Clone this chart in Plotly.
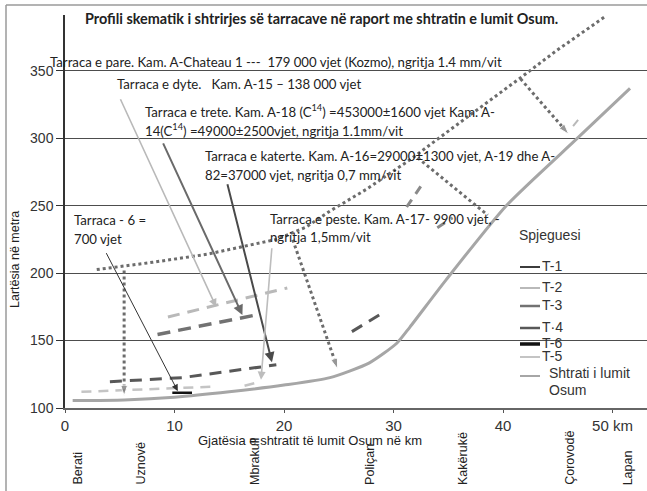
import plotly.graph_objects as go

# ---- river bed profile of the Osum (distance km, elevation m) ----
river_km = [0.7, 5.4, 10, 15, 20, 24.2, 27.8, 30.3, 31.5, 34.8, 40.3, 46.8, 51.6]
river_m = [105.5, 106, 108, 112, 117, 122.5, 133.5, 148, 160, 195, 250, 300, 337]

# ---- terrace remnants ----
t2_km = [9.4, 20.3]
t2_m = [167.5, 189]
t2b_km = [46.4, 47.0]
t2b_m = [309, 315]
t3_km = [8.45, 17.6]
t3_m = [154.5, 169.2]
t3b_km = [31.2, 32.8]
t3b_m = [249, 268]
t3c_km = [34.0, 35.4]
t3c_m = [233.7, 241]
t4_km = [4.1, 10.7, 19.3]
t4_m = [119.5, 122.5, 132]
t4b_km = [26.2, 28.7]
t4b_m = [156.6, 169]
t5_km = [1.5, 13.5]
t5_m = [112, 115.8]
t5b_km = [16.4, 17.8]
t5b_m = [116.5, 119.5]
t6_km = [9.8, 11.6]
t6_m = [111.3, 111.3]

# ---- dotted profile of the upper surface and dotted pointers ----
crest_km = [2.9, 8, 13, 19.3, 22, 24.2, 27.5, 31.5, 34.8, 38.5, 41.8, 44.9, 47.5, 49.3]
crest_m = [202.6, 208, 214, 225, 234, 246, 262, 284, 304, 326, 346, 365, 380, 390]
mid_km = [32.2, 38.6]
mid_m = [285.5, 243]
uznove_km = [5.4, 5.4]
uznove_m = [202, 109]
polican_km = [20.8, 24.9]
polican_m = [224.7, 129]
corovode_km = [41.6, 46.0]
corovode_m = [344, 303]

# ---- axis ticks and places along the river ----
x_ticks = [0, 10, 20, 30, 40, 50]
x_ticktext = ["0", "10", "20", "30", "40", "50 km"]
y_ticks = [100, 150, 200, 250, 300, 350]
places = ["Berati", "Uznovë", "Mbrakull", "Poliçan", "Kakërukë", "Çorovodë", "Lapan"]
places_km = [1.1, 6.9, 17.3, 27.8, 36.3, 46.1, 51.4]

W, H = 647, 491
L, T, B = 65, 15, 83
PW, PH = W - L, H - T - B
KM_PER_PX = 1 / 10.95
M_PER_PX = 1 / 1.349


def px(x):
    return (x - L) / PW


def py(y):
    return (H - B - y) / PH


C_T1 = "#3c3c3c"
C_T2 = "#b9b9b9"
C_T3 = "#727272"
C_T4 = "#585858"
C_T5 = "#c4c4c4"
C_T6 = "#111111"
C_RIVER = "#a6a6a6"
C_DOT = "#6c6c6c"

fig = go.Figure()


def seg(xs, ys, color, width, dash):
    fig.add_trace(go.Scatter(x=xs, y=ys, mode="lines", showlegend=False,
                             hoverinfo="skip",
                             line=dict(color=color, width=width, dash=dash)))


# terraces
seg(t5_km, t5_m, C_T5, 2.5, "10px,7px")
seg(t5b_km, t5b_m, C_T5, 2.5, "10px,7px")
seg(t2_km, t2_m, C_T2, 3, "12px,8px")
seg(t2b_km, t2b_m, C_T2, 2, "8px,4px")
seg(t3_km, t3_m, C_T3, 3.5, "13px,8px")
seg(t3b_km, t3b_m, "#8a8a8a", 3, "9px,7px")
seg(t3c_km, t3c_m, "#8a8a8a", 3, "9px,7px")
seg(t4_km, t4_m, C_T4, 3, "12px,8px")
seg(t4b_km, t4b_m, C_T4, 3, "12px,8px")
seg(t6_km, t6_m, C_T6, 2.5, "solid")

# river bed
fig.add_trace(go.Scatter(x=river_km, y=river_m, mode="lines", showlegend=False,
                         hoverinfo="skip",
                         line=dict(color=C_RIVER, width=3, shape="spline", smoothing=0.6)))

# dotted lines
seg(crest_km, crest_m, C_DOT, 3, "dot")
seg(mid_km, mid_m, C_DOT, 3, "dot")
for xs, ys in [(uznove_km, uznove_m), (polican_km, polican_m), (corovode_km, corovode_m)]:
    fig.add_trace(go.Scatter(x=xs, y=ys, mode="lines+markers", showlegend=False,
                             hoverinfo="skip",
                             line=dict(color=C_DOT, width=3, dash="dot"),
                             marker=dict(symbol="arrow", size=[0, 11], color=C_DOT,
                                         angleref="previous")))

# solid pointer arrows from the labels to the terraces
arrows = [
    (5.0, 330, 13.8, 175, C_T2, 1.6),
    (8.9, 297.3, 16.2, 169, "#6a6a6a", 2),
    (14.8, 267, 18.9, 134, "#4a4a4a", 2),
    (18.9, 219.5, 17.9, 121, "#bdbdbd", 1.6),
    (3.7, 215.9, 10.3, 112.5, "#333333", 1),
]
anns = []
for ax_, ay_, hx, hy, col, w in arrows:
    anns.append(dict(x=hx, y=hy, ax=ax_, ay=ay_, xref="x", yref="y",
                     axref="x", ayref="y", text="", showarrow=True,
                     arrowhead=2, arrowsize=1.3 if w < 1.5 else 1, arrowwidth=w,
                     arrowcolor=col, standoff=0))

TXT = dict(family="Lato, 'Open Sans', sans-serif", size=13.2, color="#222222")


def label(x, y, text, **kw):
    f = dict(TXT)
    f.update(kw.pop("font", {}))
    anns.append(dict(x=px(x), y=py(y), xref="paper", yref="paper", text=text,
                     showarrow=False, xanchor="left", yanchor="middle",
                     font=f, **kw))


label(83, 19, "<b>Profili skematik i shtrirjes së tarracave në raport me shtratin e lumit Osum.</b>",
      font=dict(size=14.4))
label(48, 62, "Tarraca e pare. Kam. A-Chateau 1 ---  179 000 vjet (Kozmo), ngritja 1.4 mm/vit")
label(115, 84, "Tarraca e dyte.   Kam. A-15 – 138 000 vjet")
label(143, 111, "Tarraca e trete. Kam. A-18 (C<sup>14</sup>) =453000±1600 vjet Kam. A-")
label(143, 130, "14(C<sup>14</sup>) =49000±2500vjet, ngritja 1.1mm/vit")
label(203, 156, "Tarraca e katerte. Kam. A-16=29000±1300 vjet, A-19 dhe A-")
label(203, 175, "82=37000 vjet, ngritja 0,7 mm/vit")
label(268, 219, "Tarraca e peste. Kam. A-17- 9900 vjet, -")
label(268, 237, "ngritja 1,5mm/vit")
label(72, 220, "Tarraca - 6 =")
label(72, 239, "700 vjet")

# legend drawn by hand
ARIAL = dict(family="Liberation Sans, Arial, sans-serif", size=14, color="#333333")
label(517, 235, "Spjeguesi", font=ARIAL)
legend_items = [("T-1", C_T1, 2, 266), ("T-2", C_T2, 2, 287), ("T-3", C_T3, 2.5, 305),
                ("T·4", C_T4, 2.5, 327), ("T-6", C_T6, 3.5, 343), ("T-5", C_T5, 2, 356)]
shapes = []
for name, col, w, yy in legend_items:
    shapes.append(dict(type="line", xref="paper", yref="paper", x0=px(520), x1=px(540),
                       y0=py(yy + 1), y1=py(yy + 1), line=dict(color=col, width=w)))
    label(540, yy, name, font=ARIAL)
shapes.append(dict(type="line", xref="paper", yref="paper", x0=px(520), x1=px(540),
                   y0=py(376), y1=py(376), line=dict(color=C_RIVER, width=2)))
label(547, 373, "Shtrati i lumit", font=ARIAL)
label(547, 390, "Osum", font=ARIAL)

# place names under the axis
for name, km in zip(places, places_km):
    anns.append(dict(x=km, y=py(487), xref="x", yref="paper", text=name,
                     textangle=-90, showarrow=False, xanchor="center", yanchor="bottom",
                     font=dict(family="Liberation Sans, Arial, sans-serif", size=12.5,
                               color="#222222")))

# axis titles
anns.append(dict(x=px(310), y=py(440), xref="paper", yref="paper",
                 text="Gjatësia e shtratit të lumit Osum në km", showarrow=False,
                 xanchor="center", yanchor="middle",
                 font=dict(family="Liberation Sans, Arial, sans-serif", size=13, color="#222222")))
anns.append(dict(x=px(15), y=py(260), xref="paper", yref="paper",
                 text="Lartësia në metra", showarrow=False, textangle=-90,
                 xanchor="center", yanchor="middle",
                 font=dict(family="Liberation Sans, Arial, sans-serif", size=12.5, color="#222222")))

# white gaps in two grid lines
for x0, x1, yy in [(233, 262, 343), (585, 618, 71)]:
    shapes.append(dict(type="rect", xref="paper", yref="paper", x0=px(x0), x1=px(x1),
                       y0=py(yy + 3), y1=py(yy - 3), fillcolor="white",
                       line=dict(width=0), layer="between"))

# outer frame
shapes.append(dict(type="line", xref="paper", yref="paper", x0=px(6), x1=px(6),
                   y0=py(5), y1=py(491), line=dict(color="#9a9a9a", width=1.5)))
shapes.append(dict(type="line", xref="paper", yref="paper", x0=px(6), x1=px(647),
                   y0=py(5), y1=py(5), line=dict(color="#9a9a9a", width=1.5)))

x_max = PW * KM_PER_PX
y_max = 100 + PH * M_PER_PX

fig.update_layout(
    width=W, height=H,
    margin=dict(l=L, r=0, t=T, b=B),
    paper_bgcolor="white", plot_bgcolor="white",
    showlegend=False,
    annotations=anns, shapes=shapes,
    xaxis=dict(range=[0, x_max], tickvals=x_ticks, ticktext=x_ticktext,
               showgrid=False, zeroline=False, showline=True, linecolor="#666666",
               linewidth=2, ticks="outside", ticklen=3, tickcolor="#555555",
               tickfont=dict(family="Liberation Sans, Arial, sans-serif", size=15,
                             color="#333333")),
    yaxis=dict(range=[100, y_max], tickvals=y_ticks, showgrid=True,
               gridcolor="#4d4d4d", gridwidth=1.2, zeroline=False, showline=True,
               linecolor="#333333", linewidth=1.5, ticks="outside", ticklen=7,
               tickcolor="#333333",
               tickfont=dict(family="Liberation Sans, Arial, sans-serif", size=14,
                             color="#333333")),
)

fig.write_html("out.html")
